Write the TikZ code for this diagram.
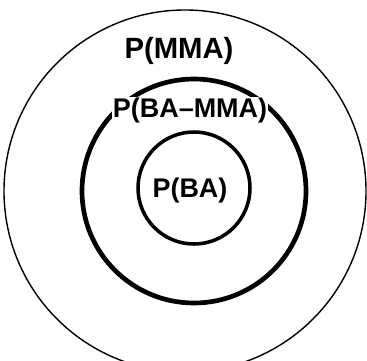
\documentclass[tikz,border=0pt]{standalone}
\usepackage{fontspec}
\setmainfont{Liberation Sans}
\usetikzlibrary{positioning}
\tikzset{
  anillo/.style={circle, draw, inner sep=0pt},
  etiq/.style={font=\fontsize{23}{25}\selectfont\bfseries, inner sep=1pt}
}
\begin{document}
\begin{tikzpicture}[x=0.03cm, y=-0.03cm]
\useasboundingbox (0,0) rectangle (367,360);

% Anillos
\node[anillo, line width=1.2pt, minimum size=10.86cm] (mma) at (185,191) {};
\node[anillo, line width=4pt, minimum size=6.72cm] (bamma) at (194,191) {};
\node[anillo, line width=3pt, minimum size=3.36cm] (ba) at (194,188) {};

% Etiquetas
\node[etiq, font=\fontsize{25}{27}\selectfont\bfseries] (lmma) at (179,51) {P(MMA)};
\node[etiq, fill=white] (lbamma) at (190,111) {P(BA–MMA)};
\node[etiq] (lba) at (190,191) {P(BA)};

\end{tikzpicture}
\end{document}
